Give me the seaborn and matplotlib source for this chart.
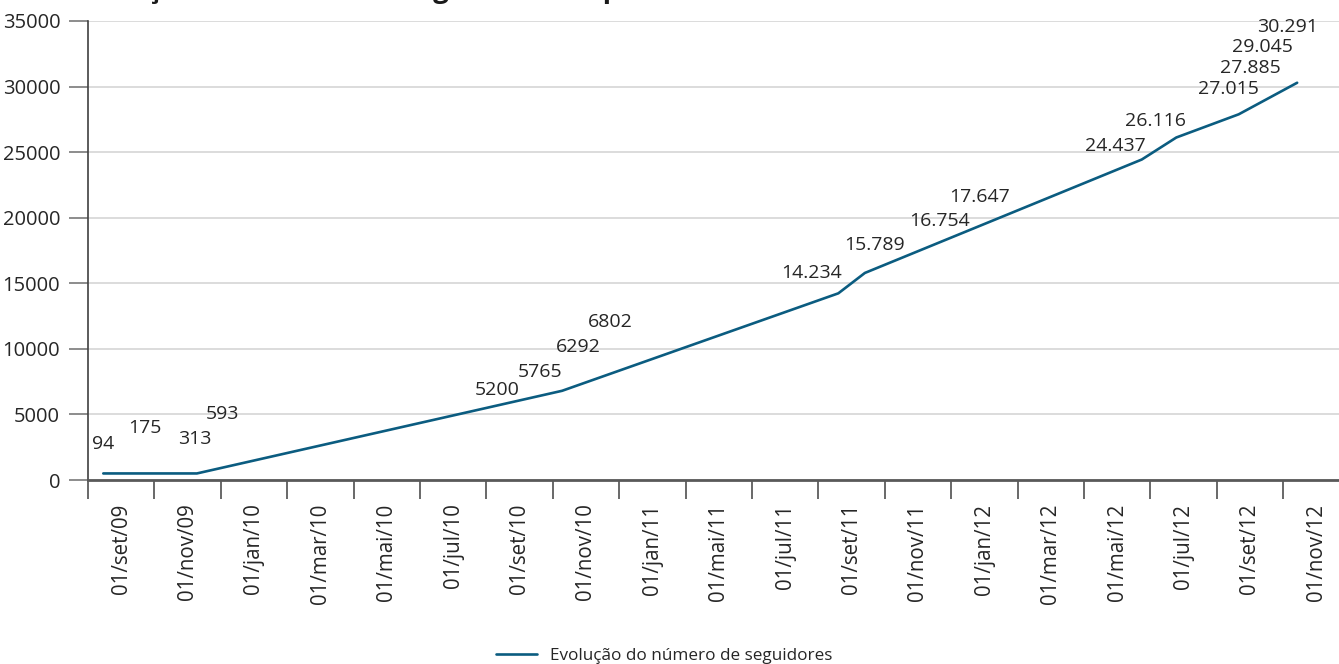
import numpy as np
import pandas as pd
import matplotlib
matplotlib.use("Agg")
import matplotlib.pyplot as plt
import seaborn as sns

# ---------------- data ----------------
tick_labels = ["01/set/09", "01/nov/09", "01/jan/10", "01/mar/10", "01/mai/10",
               "01/jul/10", "01/set/10", "01/nov/10", "01/jan/11", "01/mai/11",
               "01/jul/11", "01/set/11", "01/nov/11", "01/jan/12", "01/mar/12",
               "01/mai/12", "01/jul/12", "01/set/12", "01/nov/12"]

# line vertices: position on the period axis (label slots) and follower count
line_period = [0.23, 1.64, 7.14, 11.30, 11.70, 15.87, 16.39, 17.33, 18.21]
line_followers = [500, 500, 6802, 14234, 15789, 24437, 26116, 27885, 30291]

# data labels as printed on the chart, with their anchor (period, level)
label_texts = ["94", "175", "313", "593", "5200", "5765", "6292", "6802",
               "14.234", "15.789", "16.754", "17.647", "24.437", "26.116",
               "27.015", "27.885", "29.045", "30.291"]
label_period = [0.23, 0.86, 1.61, 2.02, 6.16, 6.81, 7.38, 7.86,
                10.90, 11.85, 12.83, 13.43, 15.47, 16.08, 17.18, 17.50, 17.68, 18.06]
label_level = [2750, 3970, 3130, 5040, 6870, 8250, 10150, 12060,
               15800, 17940, 19770, 21600, 25500, 27410, 29850, 31450, 33050, 34580]

y_ticks = [0, 5000, 10000, 15000, 20000, 25000, 30000, 35000]
series_name = "Evolução do número de seguidores"
title_text = "Evolução do número de seguidores no perfil"

# ---------------- style ----------------
sns.set_style("white")
plt.rcParams["font.family"] = ["Open Sans", "DejaVu Sans"]

LINE = "#0b5c80"
TXT = "#262626"

W, H = 1339, 664
fig = plt.figure(figsize=(W / 100, H / 100), dpi=100)
ax = fig.add_axes([88 / W, 1 - 480 / H, 19 * 66.4 / W, 459 / H])

df = pd.DataFrame({"period": line_period, "followers": line_followers})
sns.lineplot(data=df, x="period", y="followers", ax=ax, color=LINE,
             linewidth=1.9, sort=False, label=series_name)
handles, labels = ax.get_legend_handles_labels()
if ax.get_legend() is not None:
    ax.get_legend().remove()

ax.set_xlim(0, len(tick_labels))
ax.set_ylim(y_ticks[0], y_ticks[-1])
ax.set_xlabel("")
ax.set_ylabel("")

# x: tick marks at slot boundaries, labels at slot centres
ax.set_xticks(np.arange(len(tick_labels) + 1))
ax.set_xticklabels([])
ax.set_xticks(np.arange(len(tick_labels)) + 0.5, minor=True)
ax.set_xticklabels(tick_labels, minor=True, rotation=90, fontsize=14.8, color=TXT)
ax.tick_params(axis="x", which="major", length=14, width=1.1, color="#404040",
               direction="out", bottom=True)
ax.tick_params(axis="x", which="minor", length=0, pad=17, bottom=True)

ax.set_yticks(y_ticks)
ax.set_yticklabels([str(v) for v in y_ticks], fontsize=14.5, color=TXT)
ax.tick_params(axis="y", which="major", length=14, width=1.1, color="#6e6e6e",
               direction="out", left=True, pad=6)

ax.yaxis.grid(True, color="#d9d9d9", linewidth=1.3)
ax.xaxis.grid(False)
ax.set_axisbelow(True)

for s in ["top", "right"]:
    ax.spines[s].set_visible(False)
ax.spines["left"].set_color("#404040")
ax.spines["left"].set_linewidth(1.2)
ax.spines["bottom"].set_color("#595959")
ax.spines["bottom"].set_linewidth(2.0)

for t, xp, yl in zip(label_texts, label_period, label_level):
    ax.text(xp, yl, t, ha="center", va="center", fontsize=14, color=TXT)

# title (cropped at the top in the original)
fig.text(71.5 / W, 1 + 2.5 / H, title_text, fontsize=20, fontweight="bold",
         color="#1a1a1a", ha="left", va="baseline")

fig.legend(handles, labels, loc="center", bbox_to_anchor=(0.496, 1 - 656 / H),
           frameon=False, fontsize=12.3, handlelength=2.4, handletextpad=0.8,
           labelcolor=TXT)

fig.savefig("out.png", dpi=100)
